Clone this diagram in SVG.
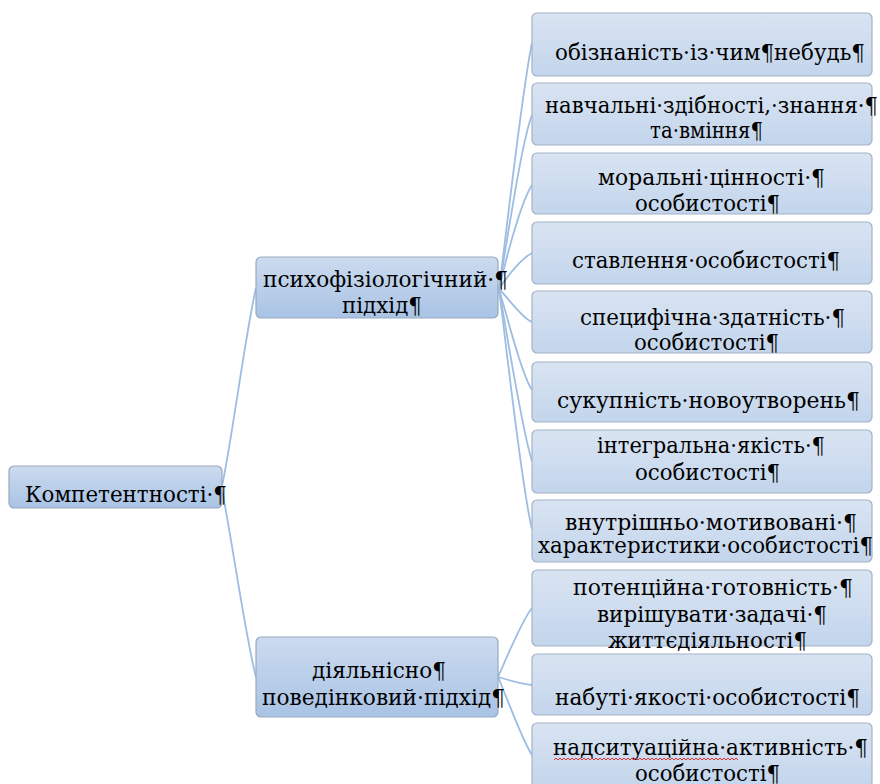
<svg xmlns="http://www.w3.org/2000/svg" width="880" height="784" viewBox="0 0 880 784">
<defs>
<linearGradient id="gLeaf" x1="0" y1="0" x2="0" y2="1">
<stop offset="0" stop-color="#d9e4f2"/>
<stop offset="1" stop-color="#c3d5ec"/>
</linearGradient>
<linearGradient id="gMid" x1="0" y1="0" x2="0" y2="1">
<stop offset="0" stop-color="#ccdbef"/>
<stop offset="1" stop-color="#a9c3e5"/>
</linearGradient>
<style>
.leaf{fill:url(#gLeaf);stroke:#a3b2c6;stroke-width:1.2}
.mid{fill:url(#gMid);stroke:#98a9bf;stroke-width:1.2}
.t{font-family:'DejaVu Serif',serif;font-size:23px;fill:#000}
.c{fill:none;stroke:#9dbde3;stroke-width:1.8}
</style>
</defs>
<rect width="880" height="784" fill="#ffffff"/>
<g id="connectors">
<path class="c" d="M222,486 C232,440 246,330 256,288"/>
<path class="c" d="M222,490 C232,540 246,640 256,677"/>
<path class="c" d="M499,289 C508,220 522,90 532,43"/>
<path class="c" d="M499,289 C508,235 522,140 532,115"/>
<path class="c" d="M499,289 C508,250 522,200 532,185"/>
<path class="c" d="M499,289 C508,275 522,258 532,253"/>
<path class="c" d="M499,289 C510,300 522,318 532,322"/>
<path class="c" d="M499,289 C508,320 522,375 532,390"/>
<path class="c" d="M499,289 C508,340 522,430 532,461"/>
<path class="c" d="M499,289 C508,360 522,490 532,529"/>
<path class="c" d="M498,677 C508,655 522,620 532,608"/>
<path class="c" d="M498,677 C508,680 522,684 532,685"/>
<path class="c" d="M498,677 C508,700 522,740 532,755"/>
</g>
<g id="root">
<rect class="mid" x="9" y="466" width="213" height="42" rx="5"/>
<text class="t" x="25" y="502" textLength="202" lengthAdjust="spacingAndGlyphs">Компетентності·¶</text>
</g>
<g id="m1">
<rect class="mid" x="256" y="257" width="242" height="61" rx="5"/>
<text class="t" x="263" y="287" textLength="245" lengthAdjust="spacingAndGlyphs">психофізіологічний·¶</text>
<text class="t" x="342" y="313" textLength="80" lengthAdjust="spacingAndGlyphs">підхід¶</text>
</g>
<g id="m2">
<rect class="mid" x="256" y="637" width="242" height="80" rx="5"/>
<text class="t" x="312" y="678" textLength="134" lengthAdjust="spacingAndGlyphs">діяльнісно¶</text>
<text class="t" x="262" y="705" textLength="243" lengthAdjust="spacingAndGlyphs">поведінковий·підхід¶</text>
</g>
<g id="l1">
<rect class="leaf" x="532" y="13" width="340" height="63" rx="5"/>
<text class="t" x="555" y="60" textLength="310" lengthAdjust="spacingAndGlyphs">обізнаність·із·чим¶небудь¶</text>
</g>
<g id="l2">
<rect class="leaf" x="532" y="83" width="340" height="62" rx="5"/>
<text class="t" x="545" y="113" textLength="333" lengthAdjust="spacingAndGlyphs">навчальні·здібності,·знання·¶</text>
<text class="t" x="650" y="138" textLength="113" lengthAdjust="spacingAndGlyphs">та·вміння¶</text>
</g>
<g id="l3">
<rect class="leaf" x="532" y="153" width="340" height="61" rx="5"/>
<text class="t" x="598" y="185" textLength="227" lengthAdjust="spacingAndGlyphs">моральні·цінності·¶</text>
<text class="t" x="635" y="211" textLength="145" lengthAdjust="spacingAndGlyphs">особистості¶</text>
</g>
<g id="l4">
<rect class="leaf" x="532" y="222" width="340" height="62" rx="5"/>
<text class="t" x="572" y="268" textLength="268" lengthAdjust="spacingAndGlyphs">ставлення·особистості¶</text>
</g>
<g id="l5">
<rect class="leaf" x="532" y="291" width="340" height="62" rx="5"/>
<text class="t" x="580" y="325" textLength="265" lengthAdjust="spacingAndGlyphs">специфічна·здатність·¶</text>
<text class="t" x="634" y="350" textLength="145" lengthAdjust="spacingAndGlyphs">особистості¶</text>
</g>
<g id="l6">
<rect class="leaf" x="532" y="362" width="340" height="60" rx="5"/>
<text class="t" x="557" y="408" textLength="303" lengthAdjust="spacingAndGlyphs">сукупність·новоутворень¶</text>
</g>
<g id="l7">
<rect class="leaf" x="532" y="430" width="340" height="63" rx="5"/>
<text class="t" x="597" y="453" textLength="228" lengthAdjust="spacingAndGlyphs">інтегральна·якість·¶</text>
<text class="t" x="635" y="480" textLength="145" lengthAdjust="spacingAndGlyphs">особистості¶</text>
</g>
<g id="l8">
<rect class="leaf" x="532" y="500" width="340" height="62" rx="5"/>
<text class="t" x="565" y="530" textLength="292" lengthAdjust="spacingAndGlyphs">внутрішньо·мотивовані·¶</text>
<text class="t" x="538" y="553" textLength="335" lengthAdjust="spacingAndGlyphs">характеристики·особистості¶</text>
</g>
<g id="l9">
<rect class="leaf" x="532" y="570" width="340" height="76" rx="5"/>
<text class="t" x="573" y="595" textLength="280" lengthAdjust="spacingAndGlyphs">потенційна·готовність·¶</text>
<text class="t" x="597" y="622" textLength="230" lengthAdjust="spacingAndGlyphs">вирішувати·задачі·¶</text>
<text class="t" x="608" y="648" textLength="199" lengthAdjust="spacingAndGlyphs">життєдіяльності¶</text>
</g>
<g id="l10">
<rect class="leaf" x="532" y="654" width="340" height="61" rx="5"/>
<text class="t" x="555" y="705" textLength="305" lengthAdjust="spacingAndGlyphs">набуті·якості·особистості¶</text>
</g>
<g id="l11">
<rect class="leaf" x="532" y="723" width="340" height="64" rx="5"/>
<text class="t" x="553" y="755" textLength="315" lengthAdjust="spacingAndGlyphs">надситуаційна·активність·¶</text>
<text class="t" x="635" y="781" textLength="145" lengthAdjust="spacingAndGlyphs">особистості¶</text>
<path d="M554,760 l2,-2 l2,2 l2,-2 l2,2 l2,-2 l2,2 l2,-2 l2,2 l2,-2 l2,2 l2,-2 l2,2 l2,-2 l2,2 l2,-2 l2,2 l2,-2 l2,2 l2,-2 l2,2 l2,-2 l2,2 l2,-2 l2,2 l2,-2 l2,2 l2,-2 l2,2 l2,-2 l2,2 l2,-2 l2,2 l2,-2 l2,2 l2,-2 l2,2 l2,-2 l2,2 l2,-2 l2,2 l2,-2 l2,2 l2,-2 l2,2 l2,-2 l2,2 l2,-2 l2,2 l2,-2 l2,2 l2,-2 l2,2 l2,-2 l2,2 l2,-2 l2,2 l2,-2 l2,2 l2,-2 l2,2 l2,-2 l2,2 l2,-2 l2,2 l2,-2 l2,2 l2,-2 l2,2 l2,-2 l2,2 l2,-2 l2,2 l2,-2 l2,2 l2,-2 l2,2 l2,-2 l2,2 l2,-2 l2,2 l2,-2 l2,2 l2,-2 l2,2 l2,-2 l2,2 l2,-2 l2,2 l2,-2 l2,2 l2,-2 l2,2" fill="none" stroke="#e03030" stroke-width="1"/>
</g>
</svg>
